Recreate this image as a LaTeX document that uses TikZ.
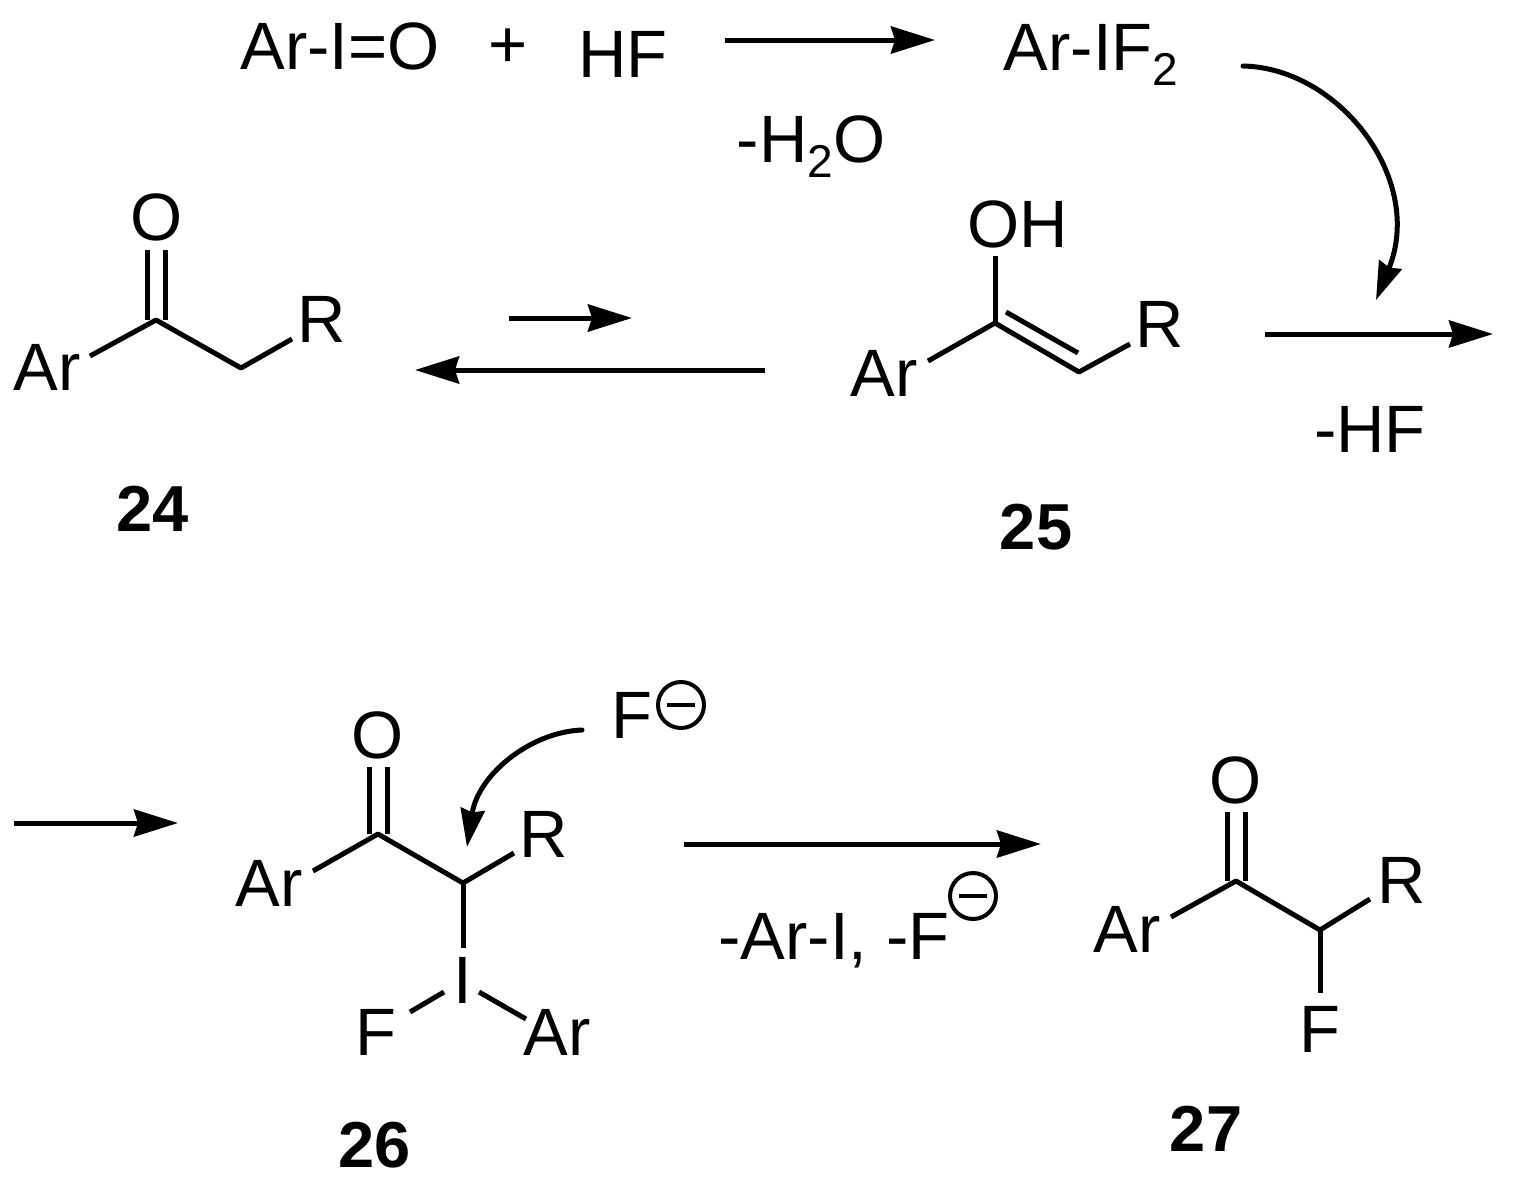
\documentclass[tikz,border=0pt]{standalone}
\usepackage{fontspec}
\setmainfont{Liberation Sans}
\usetikzlibrary{arrows.meta,calc}
\tikzset{
  chem/.style={inner sep=0pt,font=\fontsize{67}{67}\selectfont},
  cmpd/.style={inner sep=0pt,font=\fontsize{65}{65}\selectfont\bfseries},
  bond/.style={line width=5pt,line cap=butt},
  rxn/.style={line width=5pt,-{Stealth[length=44pt,width=27pt,inset=4pt]}},
  curved/.style={line width=5pt,line cap=round,-{Stealth[length=38pt,width=24pt,inset=3pt]}},
  charge/.style={circle,draw,line width=4pt,minimum size=46pt,inner sep=0pt},
}
\newcommand{\minusin}[1]{\draw[line width=4pt] ($(#1.west)+(11pt,0)$) -- ($(#1.east)+(-11pt,0)$);}
\newcommand{\lowsub}[1]{\raisebox{-15pt}{\fontsize{46}{46}\selectfont #1}}
\begin{document}
\begin{tikzpicture}[x=1pt,y=-1pt]
\useasboundingbox (0,0) rectangle (1515,1187);
% top line
\node[chem] (arIO) at (340,46) {Ar-I=O};
\node[chem] (plus) at (508,48) {+};
\node[chem] (hf) at (623,54) {HF};
\node[chem,anchor=base] (arIF) at (1091,70) {Ar-IF\lowsub{2}};
\node[chem,anchor=base] (loH2O) at (811,162) {-H\lowsub{2}O};
\coordinate (a1s) at (725,40); \coordinate (a1e) at (935,40);
\draw[rxn] (a1s) -- (a1e);
\coordinate (c1s) at (1243,66); \coordinate (c1e) at (1376,300);
\draw[curved] (c1s) .. controls (1340,68) and (1425,180) .. (c1e);
% 24
\node[chem] (o24) at (157,217) {O};
\node[chem] (ar24) at (47,367) {Ar};
\node[chem] (r24) at (322,319) {R};
\coordinate (c24) at (156,320); \coordinate (ch24) at (241,368);
\coordinate (o24a) at (147,250); \coordinate (o24b) at (147,320);
\coordinate (o24c) at (165,250); \coordinate (o24d) at (165,320);
\coordinate (ar24e) at (90,356); \coordinate (r24e) at (292,339);
\draw[bond] (o24a) -- (o24b);
\draw[bond] (o24c) -- (o24d);
\draw[bond,line join=round] (ar24e) -- (c24) -- (ch24) -- (r24e);
\node[cmpd] (n24) at (153,509) {24};
% equilibrium
\coordinate (e1s) at (509,318); \coordinate (e1e) at (632,318);
\coordinate (e2s) at (765,370); \coordinate (e2e) at (415,370);
\draw[rxn] (e1s) -- (e1e);
\draw[rxn] (e2s) -- (e2e);
% 25
\node[chem] (oh25) at (1018,224) {OH};
\node[chem] (ar25) at (884,373) {Ar};
\node[chem] (r25) at (1160,324) {R};
\coordinate (c25) at (995,323); \coordinate (ch25) at (1079,372);
\coordinate (oh25e) at (995,256); \coordinate (ar25e) at (928,361); \coordinate (r25e) at (1130,344);
\coordinate (d25a) at (1006,312); \coordinate (d25b) at (1078,353);
\draw[bond] (oh25e) -- (c25);
\draw[bond,line join=round] (ar25e) -- (c25) -- (ch25) -- (r25e);
\draw[bond] (d25a) -- (d25b);
\node[cmpd] (n25) at (1036,527) {25};
% arrow -HF
\coordinate (a2s) at (1265,334); \coordinate (a2e) at (1493,334);
\draw[rxn] (a2s) -- (a2e);
\node[chem] (lhf) at (1370,429) {-HF};
% second row
\coordinate (a3s) at (14,823); \coordinate (a3e) at (178,823);
\draw[rxn] (a3s) -- (a3e);
% 26
\node[chem] (o26) at (378,735) {O};
\node[chem] (ar26) at (269,883) {Ar};
\node[chem] (r26) at (544,834) {R};
\node[chem] (i26) at (463,980) {I};
\node[chem] (f26) at (376,1032) {F};
\node[chem] (ar26b) at (557,1032) {Ar};
\coordinate (c26) at (378,834); \coordinate (ch26) at (463,883);
\coordinate (ar26e) at (313,871); \coordinate (r26e) at (514,853);
\coordinate (o26a) at (369,767); \coordinate (o26b) at (369,834);
\coordinate (o26c) at (387,767); \coordinate (o26d) at (387,834);
\coordinate (i26t) at (463,948); \coordinate (i26l) at (444,992); \coordinate (i26ll) at (410,1012);
\coordinate (i26r) at (479,992); \coordinate (i26rr) at (526,1019);
\draw[bond] (o26a) -- (o26b);
\draw[bond] (o26c) -- (o26d);
\draw[bond,line join=round] (ar26e) -- (c26) -- (ch26) -- (r26e);
\draw[bond] (ch26) -- (i26t);
\draw[bond] (i26l) -- (i26ll);
\draw[bond] (i26r) -- (i26rr);
\node[cmpd] (n26) at (375,1145) {26};
% F-
\node[chem] (fm) at (632,715) {F};
\node[charge] (q1) at (681,705) {};
\minusin{q1}
\coordinate (c2s) at (582,730); \coordinate (c2e) at (467,847);
\draw[curved] (c2s) .. controls (530,732) and (478,775) .. (c2e);
% arrow
\coordinate (a4s) at (684,844); \coordinate (a4e) at (1041,844);
\draw[rxn] (a4s) -- (a4e);
\node[chem] (lar) at (834,941) {-Ar-I, -F};
\node[charge] (q2) at (973,896) {};
\minusin{q2}
% 27
\node[chem] (o27) at (1236,780) {O};
\node[chem] (ar27) at (1127,929) {Ar};
\node[chem] (r27) at (1402,880) {R};
\node[chem] (f27) at (1320,1029) {F};
\coordinate (c27) at (1236,881); \coordinate (ch27) at (1320,930);
\coordinate (ar27e) at (1171,917); \coordinate (r27e) at (1370,899);
\coordinate (o27a) at (1227,812); \coordinate (o27b) at (1227,881);
\coordinate (o27c) at (1245,812); \coordinate (o27d) at (1245,881);
\coordinate (f27e) at (1320,993);
\draw[bond] (o27a) -- (o27b);
\draw[bond] (o27c) -- (o27d);
\draw[bond,line join=round] (ar27e) -- (c27) -- (ch27) -- (r27e);
\draw[bond] (ch27) -- (f27e);
\node[cmpd] (n27) at (1206,1129) {27};
\end{tikzpicture}
\end{document}
